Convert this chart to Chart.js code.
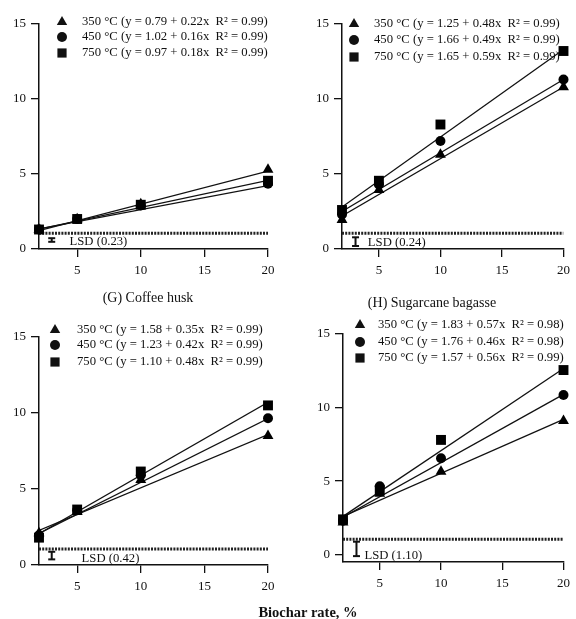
<!DOCTYPE html>
<html>
<head>
<meta charset="utf-8">
<script src="https://cdn.jsdelivr.net/npm/chart.js@4.4.1/dist/chart.umd.min.js"></script>
<style>
  body { margin: 0; background: #fff; }
  #wrap { position: relative; width: 576px; height: 619px; font-family: 'Liberation Serif', serif; color: #111; }
  canvas { position: absolute; }
  .cap { position: absolute; font-size: 14px; white-space: nowrap; transform: translate(-50%, -50%); }
  .xt { font-weight: bold; font-size: 14.5px; }
</style>
</head>
<body>
<div id="wrap">
  <canvas id="c1" width="290" height="290" style="left:0;top:0"></canvas>
  <canvas id="c2" width="286" height="290" style="left:290px;top:0"></canvas>
  <canvas id="c3" width="290" height="329" style="left:0;top:290px"></canvas>
  <canvas id="c4" width="286" height="329" style="left:290px;top:290px"></canvas>
  <div class="cap" style="left:148px;top:298px">(G) Coffee husk</div>
  <div class="cap" style="left:432px;top:303px">(H) Sugarcane bagasse</div>
  <div class="cap xt" style="left:308px;top:612px">Biochar rate, %</div>
</div>
<script>
// biochar rates and axis ticks
const rates = [2, 5, 10, 20];
const xTicks = [5, 10, 15, 20];
const yTicks = [0, 5, 10, 15];
const temps = ['350 °C', '450 °C', '750 °C'];
const markers = ['triangle', 'circle', 'rect'];
const fitX = [2, 20];
const lsdLevel = 1.05;

// top left
const tlPoints = [[1.3, 2.0, 3.0, 5.3], [1.3, 2.0, 2.9, 4.35], [1.3, 2.0, 2.95, 4.55]];
const tlFits = [[1.23, 5.19], [1.34, 4.22], [1.33, 4.57]];
const tlEq = ['(y = 0.79 + 0.22x  R² = 0.99)', '(y = 1.02 + 0.16x  R² = 0.99)', '(y = 0.97 + 0.18x  R² = 0.99)'];
const tlLsd = { x: 3, lo: 0.48, hi: 0.72, textX: 4.4, textY: 0.5, label: 'LSD (0.23)' };

// top right
const trPoints = [[1.95, 3.95, 6.3, 10.8], [2.3, 4.3, 7.2, 11.3], [2.6, 4.55, 8.3, 13.2]];
const trFits = [[2.2, 10.8], [2.5, 11.3], [2.8, 13.3]];
const trEq = ['(y = 1.25 + 0.48x  R² = 0.99)', '(y = 1.66 + 0.49x  R² = 0.99)', '(y = 1.65 + 0.59x  R² = 0.99)'];
const trLsd = { x: 3.1, lo: 0.2, hi: 0.78, textX: 4.1, textY: 0.42, label: 'LSD (0.24)' };

// bottom left
const blPoints = [[2.1, 3.5, 5.6, 8.5], [1.95, 3.6, 5.9, 9.65], [1.8, 3.65, 6.15, 10.5]];
const blFits = [[2.28, 8.58], [2.07, 9.63], [2.06, 10.7]];
const blEq = ['(y = 1.58 + 0.35x  R² = 0.99)', '(y = 1.23 + 0.42x  R² = 0.99)', '(y = 1.10 + 0.48x  R² = 0.99)'];
const blLsd = { x: 3, lo: 0.37, hi: 0.87, textX: 5.35, textY: 0.44, label: 'LSD (0.42)' };

// bottom right
const brPoints = [[2.2, 4.15, 5.65, 9.1], [2.3, 4.65, 6.55, 10.85], [2.4, 4.4, 7.8, 12.55]];
const brFits = [[2.6, 9.2], [2.55, 10.9], [2.6, 12.65]];
const brEq = ['(y = 1.83 + 0.57x  R² = 0.98)', '(y = 1.76 + 0.46x  R² = 0.98)', '(y = 1.57 + 0.56x  R² = 0.99)'];
const brLsd = { x: 3.1, lo: -0.1, hi: 0.88, textX: 3.75, textY: -0.1, label: 'LSD (1.10)' };

const serif = 'Liberation Serif';
const ink = '#111';

// legend rows + LSD text drawn on the canvas
const panelText = {
  id: 'panelText',
  afterDraw(chart, args, opts) {
    const ctx = chart.ctx;
    ctx.save();
    ctx.fillStyle = ink;
    ctx.strokeStyle = ink;
    ctx.font = opts.fontSize + 'px "' + serif + '"';
    ctx.textBaseline = 'middle';
    ctx.textAlign = 'left';
    opts.eq.forEach((eq, i) => {
      const y = opts.rowY[i];
      Chart.helpers.drawPoint(ctx, { pointStyle: markers[i], radius: [6, 5, 6.5][i], borderWidth: 0 }, opts.markerX, y);
      ctx.fillText(temps[i] + ' ' + eq, opts.textX, y);
    });
    const xs = chart.scales.x, ys = chart.scales.y;
    ctx.fillText(opts.lsd.label, xs.getPixelForValue(opts.lsd.textX), ys.getPixelForValue(opts.lsd.textY));
    ctx.restore();
  }
};

function panel(id, points, fits, eq, lsd, box, legend) {
  const canvas = document.getElementById(id);
  const W = canvas.width, H = canvas.height;
  const datasets = [];
  points.forEach((vals, i) => {
    datasets.push({
      label: temps[i],
      data: rates.map((r, j) => ({ x: r, y: vals[j] })),
      pointStyle: markers[i],
      pointRadius: [6.3, 5, 7][i],
      pointBackgroundColor: '#000',
      pointBorderWidth: 0,
      showLine: false,
      clip: false
    });
  });
  fits.forEach((f) => {
    datasets.push({
      data: fitX.map((x, j) => ({ x: x, y: f[j] })),
      showLine: true, pointRadius: 0, borderColor: '#111', borderWidth: 1.3
    });
  });
  datasets.push({
    data: fitX.map((x) => ({ x: x, y: lsdLevel })),
    showLine: true, pointRadius: 0, borderColor: '#222', borderWidth: 3, borderDash: [2, 1.2]
  });
  datasets.push({
    data: [{ x: lsd.x, y: lsd.lo }, { x: lsd.x, y: lsd.hi }],
    showLine: true, borderColor: '#111', borderWidth: 2,
    pointStyle: 'line', pointRadius: 3.5, pointBorderWidth: 2, pointBorderColor: '#111',
    clip: false
  });

  const axisFont = { family: serif, size: 13 };
  new Chart(canvas, {
    type: 'scatter',
    data: { datasets: datasets },
    options: {
      responsive: false,
      animation: false,
      events: [],
      layout: { padding: { top: box.top, right: W - box.right, bottom: 0, left: 0 } },
      plugins: {
        legend: { display: false },
        tooltip: { enabled: false },
        panelText: { eq: eq, lsd: lsd, markerX: legend.markerX, textX: legend.textX, rowY: legend.rowY, fontSize: 12.7 }
      },
      scales: {
        x: {
          type: 'linear', min: 2, max: 20,
          afterBuildTicks: (s) => { s.ticks = xTicks.map((v) => ({ value: v })); },
          afterFit: (s) => { s.height = H - box.bottom; },
          grid: { drawOnChartArea: false, drawTicks: true, tickLength: 8, color: '#111', lineWidth: 1.3 },
          border: { display: true, color: '#111', width: 1.5 },
          ticks: { font: axisFont, color: ink, padding: 6, maxRotation: 0 }
        },
        y: {
          type: 'linear', min: box.yMin, max: 15,
          afterBuildTicks: (s) => { s.ticks = yTicks.map((v) => ({ value: v })); },
          afterFit: (s) => { s.width = box.left; },
          grid: { drawOnChartArea: false, drawTicks: true, tickLength: 8, color: '#111', lineWidth: 1.3 },
          border: { display: true, color: '#111', width: 1.5 },
          ticks: { font: axisFont, color: ink, padding: 5 }
        }
      }
    },
    plugins: [panelText]
  });
}

panel('c1', tlPoints, tlFits, tlEq, tlLsd, { left: 39, right: 268, top: 24, bottom: 249, yMin: 0 }, { markerX: 62, textX: 82, rowY: [22, 37, 53] });
panel('c2', trPoints, trFits, trEq, trLsd, { left: 52, right: 279, top: 24, bottom: 249, yMin: 0 }, { markerX: 64, textX: 84, rowY: [24, 40, 57] });
panel('c3', blPoints, blFits, blEq, blLsd, { left: 39, right: 268, top: 47, bottom: 275, yMin: 0 }, { markerX: 55, textX: 77, rowY: [40, 55, 72] });
panel('c4', brPoints, brFits, brEq, brLsd, { left: 53, right: 279, top: 44, bottom: 272, yMin: -0.5 }, { markerX: 70, textX: 88, rowY: [35, 52, 68] });
</script>
</body>
</html>
